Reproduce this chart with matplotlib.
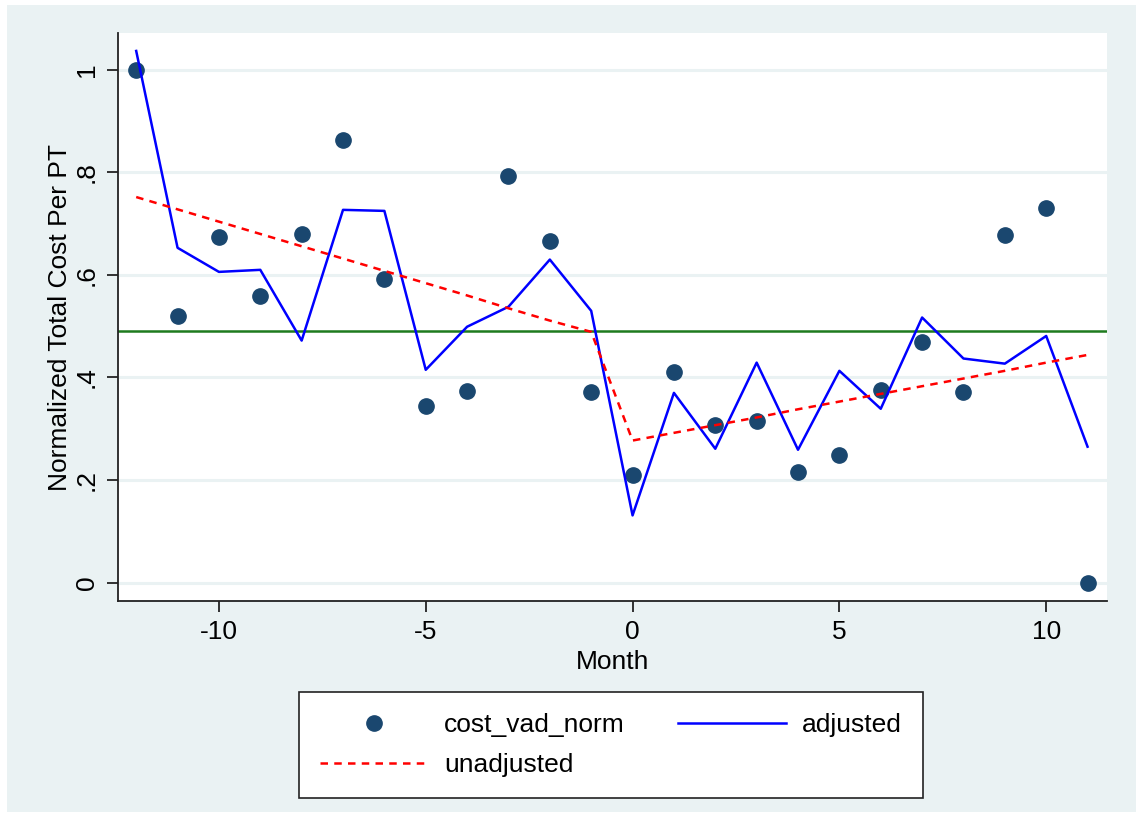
import matplotlib
matplotlib.use('Agg')
import matplotlib.pyplot as plt
from matplotlib.patches import Rectangle

plt.rcParams['font.family'] = ['Liberation Sans', 'DejaVu Sans']

months = list(range(-12, 12))

cost_vad_norm = [1.000, 0.520, 0.674, 0.559, 0.680, 0.864, 0.593, 0.345,
                 0.374, 0.793, 0.667, 0.372, 0.209, 0.411, 0.308, 0.316,
                 0.216, 0.248, 0.376, 0.470, 0.372, 0.678, 0.731, 0.000]

adjusted = [1.037, 0.653, 0.606, 0.610, 0.472, 0.727, 0.725, 0.415,
            0.499, 0.538, 0.630, 0.530, 0.131, 0.370, 0.261, 0.429,
            0.259, 0.413, 0.339, 0.517, 0.437, 0.427, 0.481, 0.265]

unadjusted = [0.752, 0.728, 0.704, 0.680, 0.656, 0.632, 0.608, 0.584,
              0.560, 0.535, 0.511, 0.489, 0.277, 0.292, 0.307, 0.322,
              0.338, 0.353, 0.368, 0.383, 0.398, 0.413, 0.429, 0.444]

mean_level = 0.491

x_ticks = [-10, -5, 0, 5, 10]
y_ticks = [0, 0.2, 0.4, 0.6, 0.8, 1.0]
y_tick_labels = ['0', '.2', '.4', '.6', '.8', '1']

bg_color = '#EAF2F3'
W, H = 1136, 822

fig = plt.figure(figsize=(W / 100, H / 100), dpi=100)
fig.patch.set_facecolor('white')
fig.patches.append(Rectangle((7 / W, 10 / H), 1 - 7 / W, 1 - 15 / H,
                             transform=fig.transFigure, facecolor=bg_color,
                             edgecolor='none', zorder=-10))

ax = fig.add_axes([118 / W, 1 - 601 / H, (1107 - 118) / W, (601 - 33) / H])
ax.set_facecolor('white')

for yt in y_ticks:
    ax.axhline(yt, color=bg_color, lw=2.2, zorder=0)

ax.axhline(mean_level, color='#1E7B1E', lw=1.8, zorder=2)
ax.plot(months, cost_vad_norm, 'o', color='#1A476F', markersize=11,
        label='cost_vad_norm', zorder=3)
ax.plot(months, adjusted, color='#0000FF', lw=1.8, label='adjusted', zorder=4)
ax.plot(months, unadjusted, color='#FF0000', lw=1.8, ls=(0, (3, 2.5)),
        label='unadjusted', zorder=4)

ax.set_xlim(-12.44, 11.47)
ax.set_ylim(-0.036, 1.072)
ax.set_xticks(x_ticks)
ax.set_xticklabels([str(t) for t in x_ticks])
ax.set_yticks(y_ticks)
ax.set_yticklabels(y_tick_labels, rotation=90, va='center')

for side in ['top', 'right']:
    ax.spines[side].set_visible(False)
for side in ['left', 'bottom']:
    ax.spines[side].set_color('#222222')
    ax.spines[side].set_linewidth(1.3)
ax.tick_params(direction='out', length=8, width=1.3, color='#222222',
               labelsize=19, pad=6)

ax.set_xlabel('Month', fontsize=19, labelpad=4)
ax.set_ylabel('Normalized Total Cost Per PT', fontsize=19, labelpad=2)

handles, labels = ax.get_legend_handles_labels()
order = [0, 2, 1]
leg = fig.legend([handles[i] for i in order], [labels[i] for i in order],
                 loc='center', bbox_to_anchor=(611 / W, 1 - 745 / H),
                 ncol=2, fontsize=19, frameon=True, fancybox=False,
                 framealpha=1, handlelength=4.1, handletextpad=0.6,
                 columnspacing=2.0, borderpad=0.8, labelspacing=0.6)
leg.get_frame().set_facecolor('white')
leg.get_frame().set_edgecolor('#222222')
leg.get_frame().set_linewidth(1.2)

fig.savefig('out.png', dpi=100, facecolor=fig.get_facecolor())
